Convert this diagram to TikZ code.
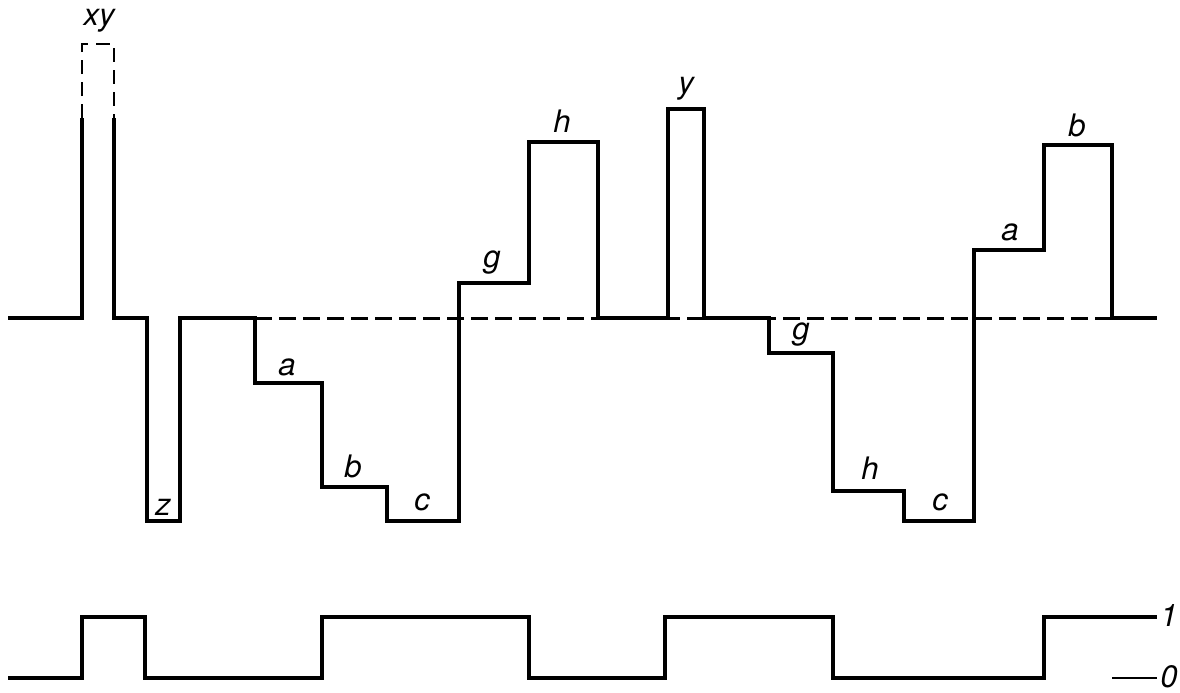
\documentclass[tikz,border=0pt]{standalone}
\usepackage{fontspec}
\setmainfont{TeX Gyre Heros}
\begin{document}
\begin{tikzpicture}[x=0.5pt,y=-0.5pt,
  wave/.style={line width=2.1pt,line join=miter},
  refline/.style={line width=1.5pt,dash pattern=on 8.5pt off 3.5pt},
  ghost/.style={line width=1.4pt,dash pattern=on 7pt off 4pt},
  lbl/.style={font=\fontsize{15.5}{16}\selectfont\itshape,inner sep=0pt}]
\useasboundingbox (0,0) rectangle (1180,692);
% reference line
\coordinate (r0) at (255,318);
\coordinate (r1) at (1112,318);
\draw[refline] (r0) -- (r1);
% main waveform
\draw[wave] (8,318) -- (82,318) -- (82,118);
\draw[ghost] (82,118) -- (82,44) -- (114,44) -- (114,118);
\draw[wave] (114,118) -- (114,318) -- (147,318) -- (147,521) -- (180,521) -- (180,318)
  -- (255,318) -- (255,383) -- (322,383) -- (322,487) -- (387,487) -- (387,521)
  -- (459,521) -- (459,283) -- (529,283) -- (529,142) -- (598,142) -- (598,318)
  -- (668,318) -- (668,109) -- (704,109) -- (704,318) -- (769,318) -- (769,353)
  -- (833,353) -- (833,491) -- (904,491) -- (904,521) -- (974,521) -- (974,250)
  -- (1044,250) -- (1044,145) -- (1112,145) -- (1112,318) -- (1157,318);
% clock waveform
\draw[wave] (8,678) -- (82,678) -- (82,617) -- (145,617) -- (145,678) -- (322,678)
  -- (322,617) -- (529,617) -- (529,678) -- (665,678) -- (665,617) -- (833,617)
  -- (833,678) -- (1044,678) -- (1044,617) -- (1157,617);
\coordinate (z0a) at (1112,678);
\coordinate (z0b) at (1157,678);
\draw[line width=1.2pt] (z0a) -- (z0b);
% labels
\node[lbl] (lxy) at (99,21) {xy};
\node[lbl] (lz) at (163,507) {z};
\node[lbl] (la1) at (287,367) {a};
\node[lbl] (lb1) at (353,466) {b};
\node[lbl] (lc1) at (422,502) {c};
\node[lbl] (lg1) at (492,263) {g};
\node[lbl] (lh1) at (562,121) {h};
\node[lbl] (ly) at (686,89) {y};
\node[lbl] (lg2) at (801,335) {g};
\node[lbl] (lh2) at (870,468) {h};
\node[lbl] (lc2) at (940,502) {c};
\node[lbl] (la2) at (1010,232) {a};
\node[lbl] (lb2) at (1077,125) {b};
\node[lbl,anchor=west] (l1) at (1160,616) {1};
\node[lbl,anchor=west] (l0) at (1160,677) {0};
\end{tikzpicture}
\end{document}
